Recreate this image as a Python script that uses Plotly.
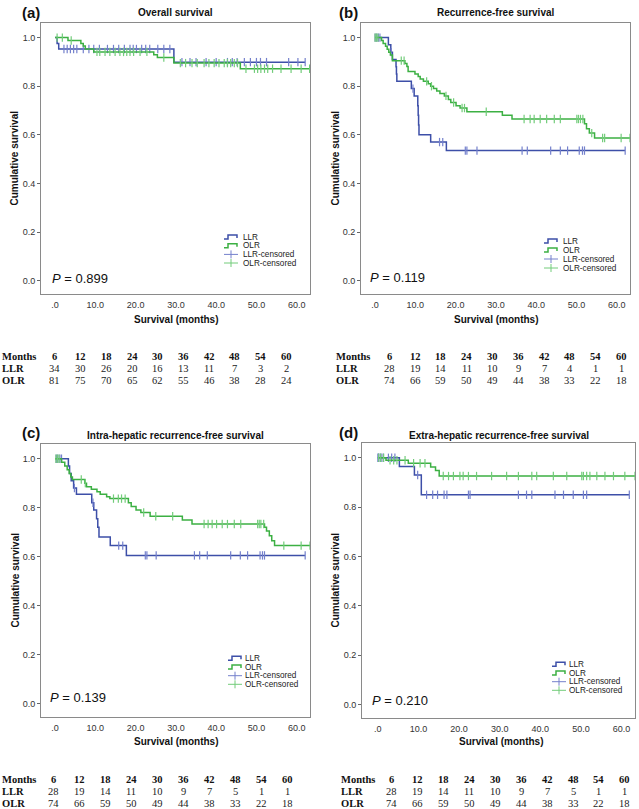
import numpy as np
import plotly.graph_objects as go
from plotly.subplots import make_subplots

W, H = 639, 809

# at-risk table
MONTHS = [6, 12, 18, 24, 30, 36, 42, 48, 54, 60]
A_LLR_RISK = [34, 30, 26, 20, 16, 13, 11, 7, 3, 2]
A_OLR_RISK = [81, 75, 70, 65, 62, 55, 46, 38, 28, 24]
B_LLR_RISK = [28, 19, 14, 11, 10, 9, 7, 4, 1, 1]
B_OLR_RISK = [74, 66, 59, 50, 49, 44, 38, 33, 22, 18]
C_LLR_RISK = [28, 19, 14, 11, 10, 9, 7, 5, 1, 1]
C_OLR_RISK = [74, 66, 59, 50, 49, 44, 38, 33, 22, 18]
D_LLR_RISK = [28, 19, 14, 11, 10, 9, 7, 5, 1, 1]
D_OLR_RISK = [74, 66, 59, 50, 49, 44, 38, 33, 22, 18]

# (a) overall survival: step times / survival, censored times
A_LLR_T = [0, 0.5, 0.9, 29.5, 62.1]
A_LLR_S = [1.0, 0.976, 0.953, 0.899, 0.899]
A_LLR_C = [2.2, 3.0, 3.8, 4.6, 5.4, 7.0, 8.4, 9.6, 11.0, 13.0, 14.5, 15.8, 17.2, 18.6,
           19.4, 20.2, 21.5, 22.5, 23.5, 25.5, 27.0, 28.5, 31.5, 33.5, 35.0, 37.5, 40.0,
           42.8, 44.0, 45.2, 47.0, 48.5, 50.0, 51.0, 52.5, 58.0, 60.3, 62.1]
A_OLR_T = [0, 3.2, 6.4, 7.0, 7.5, 9.6, 24.5, 25.4, 29.5, 46.0, 63.3]
A_OLR_S = [1.0, 0.988, 0.976, 0.965, 0.953, 0.941, 0.929, 0.918, 0.895, 0.872, 0.872]
A_OLR_C = [0.5, 1.8, 4.0, 10.4, 11.1, 12.4, 13.6, 14.9, 16.1, 17.0, 17.8, 18.6, 19.5,
           21.1, 22.8, 27.0, 31.1, 32.4, 34.0, 35.3, 37.0, 38.2, 39.5, 40.7, 42.0, 42.8,
           43.6, 44.5, 45.3, 47.4, 49.5, 50.3, 51.1, 52.0, 52.8, 54.0, 56.1, 58.6, 61.1, 63.2]

# (b) recurrence-free survival
B_LLR_T = [0, 3.3, 3.9, 4.3, 5.2, 5.3, 5.4, 9.0, 9.7, 10.6, 10.7, 10.8, 10.9, 13.8, 17.7, 62.1]
B_LLR_S = [1.0, 0.97, 0.94, 0.91, 0.88, 0.85, 0.82, 0.79, 0.76, 0.72, 0.68, 0.64, 0.60,
           0.57, 0.535, 0.535]
B_LLR_C = [0.0, 0.4, 0.8, 1.2, 4.0, 9.4, 16.0, 16.8, 22.4, 22.8, 25.3, 36.5, 37.8, 43.6,
           46.0, 47.8, 50.7, 51.5, 52.0, 62.1]
B_OLR_T = [0, 1.6, 2.0, 2.6, 3.0, 3.4, 3.8, 4.3, 7.4, 7.9, 8.2, 9.9, 10.7, 11.2, 12.0,
           13.2, 13.8, 14.5, 15.3, 16.1, 17.2, 18.2, 18.8, 20.1, 21.1, 22.8, 31.6, 34.0,
           52.0, 52.5, 53.2, 54.5, 63.3]
B_OLR_S = [1.0, 0.988, 0.976, 0.964, 0.952, 0.94, 0.928, 0.905, 0.893, 0.881, 0.86,
           0.85, 0.84, 0.83, 0.82, 0.81, 0.80, 0.79, 0.78, 0.77, 0.76, 0.745, 0.733,
           0.72, 0.71, 0.695, 0.68, 0.665, 0.645, 0.625, 0.607, 0.587, 0.587]
B_OLR_C = [0.0, 0.3, 0.7, 6.5, 7.2, 12.8, 14.0, 17.6, 19.5, 21.6, 22.2, 27.6, 37.0, 38.5,
           39.5, 41.0, 42.6, 44.5, 46.0, 50.1, 50.5, 51.0, 51.6, 53.8, 56.5, 57.0, 61.1, 63.3]

# (c) intra-hepatic recurrence-free survival
C_LLR_T = [0, 3.3, 3.6, 4.0, 4.6, 5.3, 9.1, 9.6, 10.3, 10.6, 10.9, 13.7, 17.7, 62.1]
C_LLR_S = [1.0, 0.97, 0.94, 0.91, 0.88, 0.855, 0.82, 0.79, 0.755, 0.72, 0.68, 0.645,
           0.605, 0.605]
C_LLR_C = [0.3, 0.7, 1.2, 1.6, 4.8, 9.4, 15.8, 16.8, 22.4, 22.8, 25.1, 34.6, 35.9, 37.8,
           43.6, 46.0, 47.8, 50.9, 51.5, 52.0, 62.1]
C_OLR_T = [0, 1.6, 2.4, 3.0, 3.5, 3.9, 4.3, 7.4, 7.8, 9.0, 10.4, 11.2, 12.8, 13.6, 18.2,
           18.9, 20.1, 21.3, 23.6, 31.6, 34.0, 52.0, 52.5, 53.2, 53.8, 54.5, 63.3]
C_OLR_S = [1.0, 0.985, 0.97, 0.955, 0.94, 0.925, 0.915, 0.9, 0.885, 0.875, 0.865, 0.855,
           0.845, 0.837, 0.82, 0.805, 0.79, 0.78, 0.765, 0.75, 0.733, 0.72, 0.705, 0.685,
           0.665, 0.645, 0.645]
C_OLR_C = [0.2, 0.6, 1.0, 6.5, 7.5, 14.5, 15.7, 16.5, 17.4, 22.0, 25.0, 29.2, 37.0, 38.0,
           39.0, 40.1, 41.5, 42.8, 44.5, 46.1, 50.3, 50.7, 51.1, 51.8, 56.8, 61.1, 63.3]

# (d) extra-hepatic recurrence-free survival
D_LLR_T = [0, 5.3, 9.0, 10.7, 61.9]
D_LLR_S = [1.0, 0.965, 0.93, 0.85, 0.85]
D_LLR_C = [0.0, 0.2, 0.6, 1.0, 1.4, 2.6, 3.4, 4.2, 9.8, 12.0, 13.5, 14.7, 16.3, 17.0,
           22.3, 22.7, 34.6, 36.6, 37.9, 43.6, 45.7, 48.1, 50.6, 51.4, 61.9]
D_OLR_T = [0, 2.0, 7.5, 13.0, 14.2, 15.1, 63.3]
D_OLR_S = [1.0, 0.99, 0.978, 0.963, 0.948, 0.926, 0.926]
D_OLR_C = [0.2, 0.7, 1.4, 3.0, 3.9, 4.7, 6.7, 8.8, 10.4, 11.6, 16.1, 17.4, 18.6, 20.2,
           21.0, 22.3, 24.3, 28.0, 31.7, 34.6, 37.9, 39.1, 43.2, 46.5, 50.2, 50.6, 51.4,
           52.2, 53.9, 55.9, 58.0, 60.8, 63.3]

TITLES = ["Overall survival", "Recurrence-free survival",
          "Intra-hepatic recurrence-free survival", "Extra-hepatic recurrence-free survival"]
LABELS = ["(a)", "(b)", "(c)", "(d)"]
P_VALUES = ["0.899", "0.119", "0.139", "0.210"]
LEGEND_NAMES = ["LLR", "OLR", "LLR-censored", "OLR-censored"]

BLUE, GREEN = "#3d4fa8", "#3cb043"
BLUE_C, GREEN_C = "#7480cc", "#72cc7a"
SANS = "Liberation Sans, Arial, sans-serif"
SERIF = "Liberation Serif, Times New Roman, serif"

# layout in pixels for each panel
PANELS = [
    dict(box=(41, 310, 23, 294), xr=[-3.5, 63.3], lab=(20, 12), tit=(175, 13), p=(50, 278),
         leg=(224, 241, [237, 245.7, 254.4, 263]), xt=(176, 319), yt=14,
         tab=(0, 55, 25.7, [356, 368, 380])),
    dict(box=(361, 630, 23, 294), xr=[-3.5, 63.3], lab=(337, 12), tit=(496, 13), p=(368, 277),
         leg=(544, 561, [241, 250, 259, 268]), xt=(496, 319), yt=335,
         tab=(334, 389.3, 25.8, [356, 368, 380])),
    dict(box=(41, 310, 444, 717), xr=[-3.5, 63.3], lab=(20, 432), tit=(175, 435), p=(48, 697),
         leg=(228, 243, [658.3, 667, 675.7, 684.3]), xt=(176, 741), yt=15,
         tab=(0, 53.3, 26, [779.3, 791.5, 803.3])),
    dict(box=(362, 635, 443, 718), xr=[-3.9, 63.3], lab=(337, 432), tit=(499, 435), p=(370, 700),
         leg=(552, 567, [664.3, 673, 681.7, 690.3]), xt=(501, 741), yt=335,
         tab=(339, 391.7, 25.9, [779.3, 791.5, 803.3])),
]

DATA = [
    ((A_LLR_T, A_LLR_S, A_LLR_C), (A_OLR_T, A_OLR_S, A_OLR_C), A_LLR_RISK, A_OLR_RISK),
    ((B_LLR_T, B_LLR_S, B_LLR_C), (B_OLR_T, B_OLR_S, B_OLR_C), B_LLR_RISK, B_OLR_RISK),
    ((C_LLR_T, C_LLR_S, C_LLR_C), (C_OLR_T, C_OLR_S, C_OLR_C), C_LLR_RISK, C_OLR_RISK),
    ((D_LLR_T, D_LLR_S, D_LLR_C), (D_OLR_T, D_OLR_S, D_OLR_C), D_LLR_RISK, D_OLR_RISK),
]


def px(x):
    return x / W


def py(y):
    return 1 - y / H


def surv_at(ts, ss, cs):
    idx = np.searchsorted(np.array(ts), np.array(cs), side="right") - 1
    return np.array(ss)[idx]


fig = make_subplots(rows=2, cols=2)
annotations = []
shapes = []

for i, (pan, (llr, olr, risk_l, risk_o)) in enumerate(zip(PANELS, DATA)):
    r, c = i // 2 + 1, i % 2 + 1
    for (ts, ss, cs), col, ccol in [(llr, BLUE, BLUE_C), (olr, GREEN, GREEN_C)]:
        fig.add_trace(go.Scatter(x=ts, y=ss, mode="lines", line=dict(color=col, width=1.5, shape="hv"),
                                 showlegend=False, hoverinfo="skip"), row=r, col=c)
        fig.add_trace(go.Scatter(x=cs, y=surv_at(ts, ss, cs), mode="markers",
                                 marker=dict(symbol="line-ns", size=6, line=dict(color=ccol, width=1.2)),
                                 showlegend=False, hoverinfo="skip"), row=r, col=c)

    x0, x1, y0, y1 = pan["box"]
    n = "" if i == 0 else str(i + 1)
    fig.layout["xaxis" + n].update(domain=[px(x0), px(x1)], range=pan["xr"],
                                   tickvals=[0, 10, 20, 30, 40, 50, 60],
                                   ticktext=[".0", "10.0", "20.0", "30.0", "40.0", "50.0", "60.0"],
                                   ticks="", ticklabelstandoff=2,
                                   showline=True, mirror=True, linecolor="#8a8a8a", linewidth=1,
                                   showgrid=False, zeroline=False,
                                   tickfont=dict(family=SANS, size=9, color="#333"))
    fig.layout["yaxis" + n].update(domain=[py(y1), py(y0)], range=[-0.055, 1.06],
                                   tickvals=[0, 0.2, 0.4, 0.6, 0.8, 1.0],
                                   ticktext=["0.0", "0.2", "0.4", "0.6", "0.8", "1.0"],
                                   ticks="outside", ticklen=3, tickcolor="#666",
                                   showline=True, mirror=True, linecolor="#8a8a8a", linewidth=1,
                                   showgrid=False, zeroline=False,
                                   tickfont=dict(family=SANS, size=9, color="#333"))

    # panel label and title
    annotations.append(dict(x=px(pan["lab"][0]), y=py(pan["lab"][1]), text="<b>%s</b>" % LABELS[i],
                            xanchor="left", yanchor="middle", font=dict(family=SANS, size=15, color="#111")))
    annotations.append(dict(x=px(pan["tit"][0]), y=py(pan["tit"][1]), text="<b>%s</b>" % TITLES[i],
                            xanchor="center", yanchor="middle", font=dict(family=SANS, size=10, color="#111")))
    # axis titles
    annotations.append(dict(x=px(pan["xt"][0]), y=py(pan["xt"][1]), text="<b>Survival (months)</b>",
                            xanchor="center", yanchor="middle", font=dict(family=SANS, size=10, color="#111")))
    annotations.append(dict(x=px(pan["yt"]), y=py((y0 + y1) / 2), text="<b>Cumulative survival</b>",
                            textangle=-90, xanchor="center", yanchor="middle",
                            font=dict(family=SANS, size=10, color="#111")))
    # p value
    annotations.append(dict(x=px(pan["p"][0]), y=py(pan["p"][1]), text="<i>P</i> = %s" % P_VALUES[i],
                            xanchor="left", yanchor="middle", font=dict(family=SANS, size=13, color="#111")))

    # legend
    gx, tx, rows = pan["leg"]
    gw = 14
    for k, (name, yy) in enumerate(zip(LEGEND_NAMES, rows)):
        annotations.append(dict(x=px(tx), y=py(yy), text=name, xanchor="left", yanchor="middle",
                                font=dict(family=SANS, size=8.2, color="#222")))
        if k < 2:
            col = BLUE if k == 0 else GREEN
            path = "M %f,%f L %f,%f L %f,%f L %f,%f L %f,%f" % (
                px(gx), py(yy + 2), px(gx + 4), py(yy + 2), px(gx + 4), py(yy - 2),
                px(gx + gw - 1), py(yy - 2), px(gx + gw - 1), py(yy + 1))
            shapes.append(dict(type="path", path=path, xref="paper", yref="paper",
                               line=dict(color=col, width=1.5)))
        else:
            col = BLUE_C if k == 2 else GREEN_C
            shapes.append(dict(type="line", xref="paper", yref="paper", x0=px(gx), x1=px(gx + gw),
                               y0=py(yy), y1=py(yy), line=dict(color=col, width=1)))
            shapes.append(dict(type="line", xref="paper", yref="paper", x0=px(gx + gw / 2), x1=px(gx + gw / 2),
                               y0=py(yy - 4), y1=py(yy + 4), line=dict(color=col, width=1)))

    # at-risk table
    lx, cx0, step, trows = pan["tab"]
    for name, yy in [("Months", trows[0]), ("LLR", trows[1]), ("OLR", trows[2])]:
        annotations.append(dict(x=px(lx), y=py(yy), text="<b>%s</b>" % name, xanchor="left", yanchor="middle",
                                font=dict(family=SERIF, size=10.5, color="#111")))
    for j, m in enumerate(MONTHS):
        xx = px(cx0 + j * step)
        annotations.append(dict(x=xx, y=py(trows[0]), text="<b>%d</b>" % m, xanchor="center", yanchor="middle",
                                font=dict(family=SERIF, size=10.5, color="#111")))
        annotations.append(dict(x=xx, y=py(trows[1]), text=str(risk_l[j]), xanchor="center", yanchor="middle",
                                font=dict(family=SERIF, size=10.5, color="#222")))
        annotations.append(dict(x=xx, y=py(trows[2]), text=str(risk_o[j]), xanchor="center", yanchor="middle",
                                font=dict(family=SERIF, size=10.5, color="#222")))

for a in annotations:
    a.update(xref="paper", yref="paper", showarrow=False)

fig.update_layout(width=W, height=H, margin=dict(l=0, r=0, t=0, b=0),
                  paper_bgcolor="white", plot_bgcolor="white",
                  annotations=annotations, shapes=shapes, showlegend=False)

# page margin off so the 639x809 figure fills the window
fig.write_html("out.html", config={"displayModeBar": False},
               post_script="document.body.style.margin='0px';")
